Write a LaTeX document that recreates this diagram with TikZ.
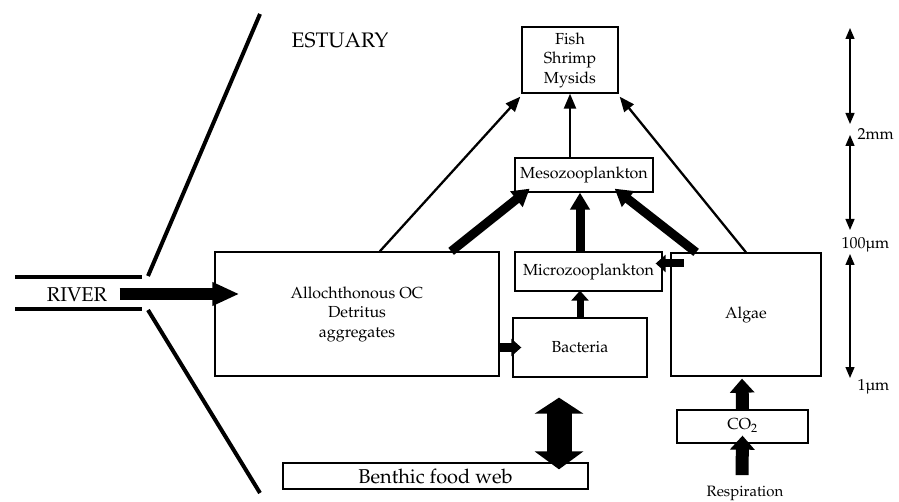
\documentclass[tikz,border=0pt]{standalone}
\usepackage[T1]{fontenc}
\usepackage{mathpazo}
\usepackage{tikz}
\usetikzlibrary{calc,arrows.meta,positioning}

\tikzset{
  box/.style={draw,line width=1.3pt,inner sep=0pt,align=center,font=\fontsize{16}{19.5}\selectfont},
  thinarrow/.style={-{Triangle[length=15pt,width=12pt]},line width=2.3pt},
  fatarrow/.style={-{Triangle[length=17pt,width=19pt]},line width=9pt},
  shortarrow/.style={-{Triangle[length=10pt,width=17pt]},line width=8pt},
  blockarrow/.style={-{Triangle[length=14pt,width=24pt]},line width=13pt},
  scalearrow/.style={{Triangle[length=11pt,width=9pt]}-{Triangle[length=11pt,width=9pt]},line width=1.3pt},
  scalelabel/.style={anchor=west,font=\fontsize{16}{18}\selectfont},
  bank/.style={line width=4pt}
}

\begin{document}
\begin{tikzpicture}[x=1pt,y=-1pt]
\useasboundingbox (0,0) rectangle (899,502);
% boxes
\node[box,minimum width=96,minimum height=66] (fish) at (570,60) {Fish\\Shrimp\\Mysids};
\node[box,minimum width=138,minimum height=34] (meso) at (584,175) {Mesozooplankton};
\node[box,minimum width=147,minimum height=39] (micro) at (588.5,271.5) {Microzooplankton};
\node[box,minimum width=284,minimum height=124] (alloch) at (357,314) {Allochthonous OC\\Detritus\\aggregates};
\node[box,minimum width=134,minimum height=59] (bact) at (580,347.5) {Bacteria};
\node[box,minimum width=150,minimum height=123] (algae) at (746,314.5) {Algae};
\node[box,minimum width=131,minimum height=33,text depth=5pt] (co2) at (742.5,426.5) {CO$_2$};
\node[box,minimum width=305,minimum height=26,font=\fontsize{20}{22}\selectfont] (benthic) at (435.5,476) {Benthic food web};
\node[font=\fontsize{15}{17}\selectfont] (resp) at (745,493) {Respiration};
\node[font=\fontsize{21}{23}\selectfont] (estuary) at (340,40) {ESTUARY};
\node[font=\fontsize{20}{22}\selectfont] (river) at (77,295) {RIVER};

% river banks and estuary mouth
\draw[bank] (15,277) -- (142,277);
\draw[bank] (15,309) -- (142,309);
\draw[bank] (148,276) -- (260,14);
\draw[bank] (148,310) -- (260,493);

% flows
\draw[fatarrow,-{Triangle[length=27pt,width=22pt]},line width=12pt] ($(river.east)+(9,-1)$) -- ($(alloch.west |- river.east)+(25,-1)$);
\draw[thinarrow] ($(alloch.north west)!0.58!(alloch.north east)$) -- ($(fish.south west)+(-1,3)$);
\draw[thinarrow] (algae.north) -- ($(fish.south east)+(1,3)$);
\draw[thinarrow] (meso.north -| fish.south) -- (fish.south);
\draw[fatarrow] ($(alloch.north west)!0.83!(alloch.north east)$) -- ($(meso.south west)!0.11!(meso.south east)+(0,-4)$);
\draw[fatarrow] ($(algae.north west)!0.17!(algae.north east)$) -- ($(meso.south west)!0.72!(meso.south east)+(0,-4)$);
\draw[fatarrow] (micro.north -| bact.north) -- (meso.south -| bact.north);
\draw[shortarrow,line width=7pt] (bact.north) -- ($(micro.south -| bact.north)+(0,-1)$);
\draw[shortarrow] (alloch.east |- bact.west) -- ($(bact.west)+(9,0)$);
\draw[shortarrow] ($(micro.east)+(21,-8)$) -- ($(micro.east)+(-7,-8)$);
\draw[blockarrow,{Triangle[length=16pt,width=48pt]}-{Triangle[length=18pt,width=48pt]},line width=25pt] ($(bact.south)+(-21,20)$) -- ($(benthic.north -| bact.south)+(-21,7)$);
\draw[blockarrow] (co2.north) -- ($(algae.south)+(-4,2)$);
\draw[blockarrow] ($(resp.north)+(-3,-7)$) -- ($(co2.south)+(0,-8)$);

% size scale
\draw[scalearrow] (850,28) -- (850,124);
\draw[scalearrow] (850,135) -- (850,230);
\draw[scalearrow] (850,254) -- (850,378);
\node[scalelabel] (mm) at (854,134) {2mm};
\node[scalelabel] (um100) at (838,245) {100\textmu m};
\node[scalelabel] (um1) at (854,387) {1\textmu m};
\end{tikzpicture}
\end{document}
